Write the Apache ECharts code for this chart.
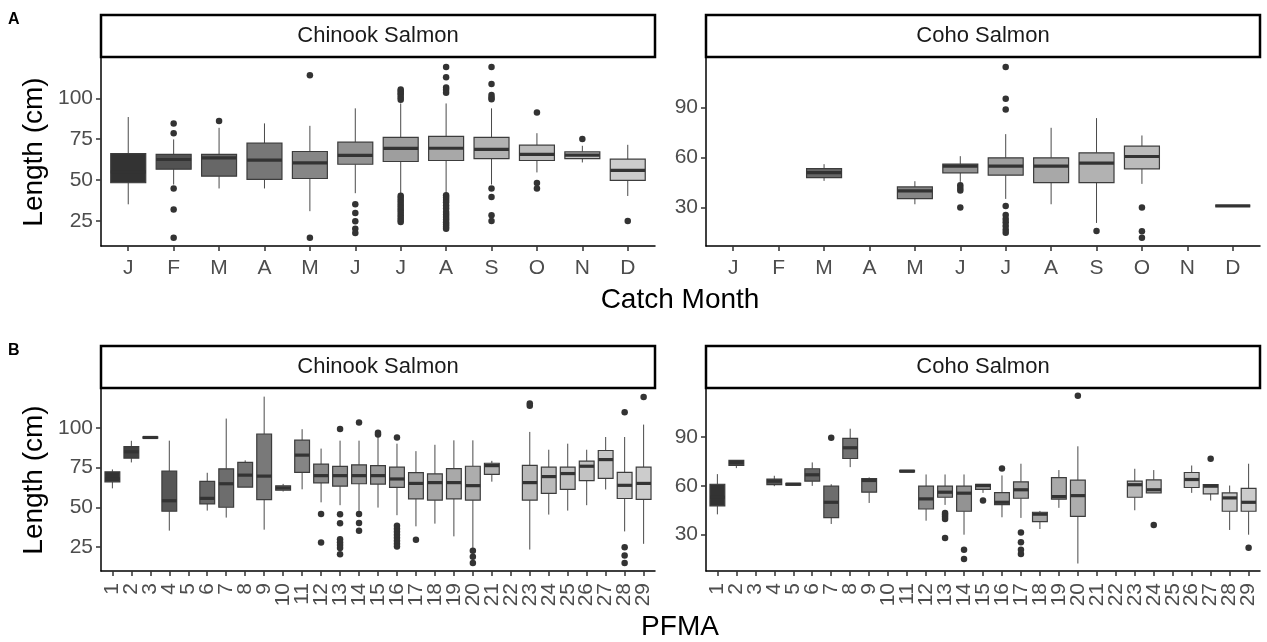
<!DOCTYPE html>
<html>
<head>
<meta charset="utf-8">
<title>Salmon length by catch month and PFMA</title>
<script src="https://cdn.jsdelivr.net/npm/echarts@6/dist/echarts.min.js"></script>
<style>
  html, body { margin: 0; padding: 0; background: #fff; }
  #chart { width: 1267px; height: 642px; }
</style>
</head>
<body>
<div id="chart"></div>
<script>
// category labels
const monthLabels = ['J', 'F', 'M', 'A', 'M', 'J', 'J', 'A', 'S', 'O', 'N', 'D'];
const pfmaLabels = ['1', '2', '3', '4', '5', '6', '7', '8', '9', '10', '11', '12', '13', '14', '15',
  '16', '17', '18', '19', '20', '21', '22', '23', '24', '25', '26', '27', '28', '29'];

// y tick labels
const chinookTicks = [25, 50, 75, 100];
const cohoTicks = [30, 60, 90];

// box stats: [lower whisker, Q1, median, Q3, upper whisker], null = no fish
const chinookMonth = [
  [35.2, 48.4, 55.0, 66.2, 88.6],
  [47.3, 56.7, 62.6, 65.8, 74.9],
  [44.9, 52.4, 63.6, 65.8, 82.0],
  [44.9, 50.4, 62.2, 72.6, 84.7],
  [31.0, 51.0, 60.5, 67.5, 83.2],
  [42.0, 59.7, 65.1, 73.2, 93.9],
  [41.2, 61.4, 69.4, 76.1, 96.9],
  [41.2, 62.0, 69.5, 76.7, 96.9],
  [47.3, 63.2, 68.8, 76.1, 93.9],
  [54.7, 62.0, 65.7, 71.4, 78.7],
  [60.8, 63.2, 65.3, 67.3, 71.0],
  [40.3, 49.8, 55.9, 62.8, 71.6]
];
// outliers: [category index, length]
const chinookMonthOut = [
  [1, 84.7], [1, 78.7], [1, 44.9], [1, 32.0], [1, 14.8],
  [2, 86.1],
  [4, 114.1], [4, 14.8],
  [5, 35.2], [5, 29.9], [5, 24.8], [5, 20.3], [5, 17.6],
  [6, 105.5], [6, 104.4], [6, 103.2], [6, 102.0], [6, 100.6], [6, 99.2],
  [6, 40.5], [6, 39.0], [6, 37.5], [6, 36.0], [6, 34.5], [6, 33.0], [6, 31.5], [6, 30.0],
  [6, 28.5], [6, 27.0], [6, 25.6], [6, 24.4],
  [7, 119.2], [7, 112.9], [7, 106.7], [7, 105.3], [7, 103.4],
  [7, 40.7], [7, 39.3], [7, 37.8], [7, 36.4], [7, 34.5], [7, 32.6], [7, 30.5], [7, 29.0],
  [7, 27.5], [7, 25.9], [7, 24.3], [7, 22.9], [7, 21.4], [7, 20.3],
  [8, 119.2], [8, 108.8], [8, 102.0], [8, 100.6], [8, 99.4], [8, 44.9], [8, 39.7], [8, 28.5], [8, 25.0],
  [9, 91.4], [9, 48.3], [9, 44.9],
  [10, 75.1],
  [11, 25.0]
];

const cohoMonth = [
  null,
  null,
  [46.0, 48.0, 51.0, 53.4, 56.0],
  null,
  [32.0, 35.4, 40.0, 42.4, 45.8],
  [45.4, 50.8, 54.8, 56.0, 60.8],
  [35.2, 49.4, 54.8, 59.8, 74.0],
  [32.0, 45.0, 54.8, 59.8, 77.8],
  [20.8, 45.0, 56.6, 62.8, 83.6],
  [44.2, 53.2, 60.6, 66.8, 73.2],
  null,
  [31.0, 31.0, 31.0, 31.0, 31.0]
];
const cohoMonthOut = [
  [5, 43.4], [5, 41.8], [5, 40.2], [5, 30.0],
  [6, 114.2], [6, 95.2], [6, 88.8], [6, 31.0], [6, 25.6], [6, 23.2], [6, 21.2], [6, 19.0], [6, 16.8], [6, 15.0],
  [8, 16.0],
  [9, 30.0], [9, 15.8], [9, 12.0]
];

const chinookPfma = [
  [62.0, 66.1, 68.0, 72.4, 73.9],
  [78.3, 81.0, 85.0, 88.3, 91.9],
  [93.6, 93.6, 94.0, 94.4, 94.4],
  [35.4, 47.6, 54.2, 72.9, 92.0],
  null,
  [48.0, 52.2, 55.7, 66.4, 71.8],
  [43.6, 50.1, 64.9, 74.3, 105.9],
  [62.8, 62.8, 70.3, 78.3, 79.6],
  [36.0, 54.9, 69.7, 96.2, 119.7],
  [60.0, 60.8, 62.2, 63.6, 64.8],
  [61.4, 72.0, 82.9, 92.3, 99.2],
  [53.2, 65.5, 70.0, 77.2, 87.0],
  [51.4, 63.4, 70.0, 75.8, 92.0],
  [47.8, 64.9, 70.0, 76.8, 92.0],
  [49.9, 64.7, 70.0, 76.3, 96.4],
  [45.1, 62.6, 67.9, 75.3, 90.1],
  [38.1, 55.4, 65.1, 71.9, 85.4],
  [39.8, 54.6, 65.6, 71.1, 89.4],
  [31.8, 55.4, 65.6, 74.4, 92.2],
  [24.5, 54.6, 63.7, 75.9, 92.2],
  [66.2, 70.8, 76.3, 77.8, 79.3],
  null,
  [23.5, 54.6, 65.6, 76.5, 97.5],
  [45.5, 58.8, 69.4, 75.3, 86.3],
  [48.0, 61.3, 71.3, 75.3, 90.1],
  [51.4, 66.8, 75.9, 79.1, 86.3],
  [61.3, 68.3, 80.1, 85.8, 94.3],
  [34.9, 55.6, 63.9, 72.1, 94.3],
  [27.1, 55.0, 65.1, 75.3, 102.1]
];
const chinookPfmaOut = [
  [11, 45.9], [11, 27.9],
  [12, 99.4], [12, 45.7], [12, 40.1], [12, 30.0], [12, 28.1], [12, 26.3], [12, 24.4], [12, 20.6],
  [13, 103.4], [13, 45.8], [13, 40.2], [13, 35.4],
  [14, 97.0], [14, 95.8],
  [15, 94.0], [15, 38.5], [15, 36.6], [15, 34.7], [15, 32.8], [15, 30.9], [15, 29.0], [15, 27.2], [15, 25.4],
  [16, 29.6],
  [19, 22.8], [19, 19.0], [19, 15.0],
  [22, 115.4], [22, 114.0],
  [27, 109.9], [27, 25.0], [27, 19.7], [27, 15.0],
  [28, 119.5]
];

const cohoPfma = [
  [42.5, 47.7, 53.0, 61.0, 67.2],
  [70.9, 72.5, 74.4, 75.6, 75.6],
  null,
  [59.8, 60.8, 62.9, 64.1, 66.2],
  [60.5, 60.5, 61.0, 61.5, 61.5],
  [60.0, 62.9, 66.8, 70.5, 74.4],
  [36.6, 40.5, 49.9, 59.8, 61.0],
  [71.5, 76.8, 83.4, 89.2, 95.1],
  [49.5, 56.1, 63.3, 64.4, 65.2],
  null,
  [68.5, 68.5, 69.0, 69.5, 69.5],
  [38.6, 45.8, 52.0, 59.8, 67.0],
  [48.3, 53.0, 56.1, 59.8, 67.0],
  [30.0, 44.4, 55.5, 59.8, 67.0],
  [55.7, 57.8, 60.2, 61.0, 61.0],
  [40.7, 48.5, 49.9, 55.9, 66.4],
  [40.3, 52.4, 57.6, 62.5, 73.6],
  [33.5, 38.0, 42.6, 43.8, 44.6],
  [46.5, 51.8, 53.4, 65.0, 69.7],
  [12.3, 41.3, 54.0, 63.5, 84.3],
  null,
  null,
  [45.0, 53.0, 60.7, 62.9, 70.5],
  [55.7, 55.7, 57.6, 63.7, 69.7],
  null,
  [55.7, 59.0, 63.9, 68.2, 72.5],
  [51.0, 55.1, 59.8, 60.7, 60.7],
  [32.9, 44.4, 52.6, 55.7, 60.2],
  [30.0, 44.4, 49.9, 58.4, 73.6]
];
const cohoPfmaOut = [
  [6, 89.6],
  [12, 43.4], [12, 42.2], [12, 41.0], [12, 39.7], [12, 28.0],
  [13, 20.8], [13, 15.0],
  [14, 51.0],
  [15, 70.7],
  [16, 31.4], [16, 25.3], [16, 20.8], [16, 18.1],
  [19, 115.3],
  [23, 36.0],
  [26, 76.7],
  [28, 22.0]
];

const FONT = '"Liberation Sans", Arial, sans-serif';

// ggplot-style grey palette (gamma spaced from grey20 to grey80)
function greyPal(n) {
  const a = Math.pow(0.2, 2.2), b = Math.pow(0.8, 2.2);
  const out = [];
  for (let i = 0; i < n; i++) {
    const g = Math.round(255 * Math.pow(a + (b - a) * i / (n - 1), 1 / 2.2));
    out.push('rgb(' + g + ',' + g + ',' + g + ')');
  }
  return out;
}

function boxRenderer(fills, frac) {
  return function (params, api) {
    const k = api.value(0);
    const lo = api.coord([k, api.value(1)]);
    const q1 = api.coord([k, api.value(2)]);
    const md = api.coord([k, api.value(3)]);
    const q3 = api.coord([k, api.value(4)]);
    const hi = api.coord([k, api.value(5)]);
    const half = api.size([1, 0])[0] * frac / 2;
    const x = lo[0];
    const whisker = (y1, y2) => ({
      type: 'line', shape: { x1: x, y1: y1, x2: x, y2: y2 },
      style: { stroke: '#4a4a4a', lineWidth: 1 }
    });
    return {
      type: 'group',
      children: [
        whisker(hi[1], q3[1]),
        whisker(q1[1], lo[1]),
        { type: 'rect', shape: { x: x - half, y: q3[1], width: 2 * half, height: q1[1] - q3[1] },
          style: { fill: fills[k], stroke: '#3c3c3c', lineWidth: 1.2 } },
        { type: 'line', shape: { x1: x - half, y1: md[1], x2: x + half, y2: md[1] },
          style: { stroke: '#333', lineWidth: 3.2 } }
      ]
    };
  };
}

// rotated tick labels (reading upward, end of text next to the tick)
function labelRenderer(labels, yMin, gap) {
  return function (params, api) {
    const k = api.value(0);
    const pt = api.coord([k, yMin]);
    return {
      type: 'text', x: pt[0], y: pt[1] + gap, rotation: Math.PI / 2,
      style: { text: labels[k], fontSize: 21, fontFamily: FONT, fill: '#4d4d4d',
        textAlign: 'right', textVerticalAlign: 'middle' }
    };
  };
}

const PW = 554;
const panels = [
  { left: 101, top: 58, height: 188, labels: monthLabels, box: chinookMonth, out: chinookMonthOut,
    ticks: chinookTicks, yMin: 9.7, yMax: 124.7, rotated: false, frac: 0.77 },
  { left: 706, top: 58, height: 188, labels: monthLabels, box: cohoMonth, out: cohoMonthOut,
    ticks: cohoTicks, yMin: 7.0, yMax: 119.6, rotated: false, frac: 0.77 },
  { left: 101, top: 389, height: 182, labels: pfmaLabels, box: chinookPfma, out: chinookPfmaOut,
    ticks: chinookTicks, yMin: 10.0, yMax: 124.5, rotated: true, frac: 0.78 },
  { left: 706, top: 389, height: 182, labels: pfmaLabels, box: cohoPfma, out: cohoPfmaOut,
    ticks: cohoTicks, yMin: 7.7, yMax: 119.5, rotated: true, frac: 0.78 }
];

const grid = [], xAxis = [], yAxis = [], series = [], graphic = [];
panels.forEach((p, i) => {
  const n = p.labels.length;
  const idx = p.labels.map((c, k) => k);
  const fills = greyPal(n);
  grid.push({ left: p.left, top: p.top, width: PW, height: p.height });
  xAxis.push({
    type: 'value', gridIndex: i, min: -0.6, max: n - 0.4,
    axisLine: { show: true, onZero: false, lineStyle: { color: '#000', width: 1.5 } },
    axisTick: { show: true, customValues: idx, length: 5, lineStyle: { color: '#333', width: 1.5 } },
    axisLabel: { show: !p.rotated, customValues: idx, formatter: v => p.labels[v], margin: 12,
      showMinLabel: true, showMaxLabel: true,
      fontSize: 21, fontFamily: FONT, color: '#4d4d4d' },
    splitLine: { show: false }
  });
  yAxis.push({
    type: 'value', gridIndex: i, min: p.yMin, max: p.yMax,
    axisLine: { show: true, onZero: false, lineStyle: { color: '#000', width: 1.5 } },
    axisTick: { show: true, customValues: p.ticks, length: 5, lineStyle: { color: '#333', width: 1.5 } },
    axisLabel: { customValues: p.ticks, margin: 8, fontSize: 21, fontFamily: FONT, color: '#4d4d4d',
      showMinLabel: true, showMaxLabel: true },
    splitLine: { show: false }
  });
  series.push({
    type: 'custom', xAxisIndex: i, yAxisIndex: i, silent: true,
    renderItem: boxRenderer(fills, p.frac),
    encode: { x: 0, y: [1, 2, 3, 4, 5] },
    data: p.box.map((b, k) => b ? [k].concat(b) : null).filter(Boolean)
  });
  series.push({
    type: 'scatter', xAxisIndex: i, yAxisIndex: i, silent: true,
    data: p.out, symbolSize: 6.5, itemStyle: { color: '#333', opacity: 1 }
  });
  if (p.rotated) {
    series.push({
      type: 'custom', xAxisIndex: i, yAxisIndex: i, silent: true, clip: false,
      renderItem: labelRenderer(p.labels, p.yMin, 12),
      encode: { x: 0 },
      data: idx.map(k => [k])
    });
  }
  // facet strip
  const stripTop = p.top - 43;
  graphic.push({ type: 'rect', shape: { x: p.left, y: stripTop, width: PW, height: 42 },
    style: { fill: '#fff', stroke: '#000', lineWidth: 2.5 } });
  graphic.push({ type: 'text', x: p.left + PW / 2, y: stripTop + 21,
    style: { text: i % 2 === 0 ? 'Chinook Salmon' : 'Coho Salmon', fontSize: 22, fontFamily: FONT,
      fill: '#1a1a1a', textAlign: 'center', textVerticalAlign: 'middle' } });
});

const titleStyle = { fontSize: 28, fontFamily: FONT, fill: '#000', textAlign: 'center', textVerticalAlign: 'middle' };
graphic.push({ type: 'text', x: 34, y: 152, rotation: Math.PI / 2, style: Object.assign({ text: 'Length (cm)' }, titleStyle) });
graphic.push({ type: 'text', x: 34, y: 480, rotation: Math.PI / 2, style: Object.assign({ text: 'Length (cm)' }, titleStyle) });
graphic.push({ type: 'text', x: 680, y: 300, style: Object.assign({ text: 'Catch Month' }, titleStyle) });
graphic.push({ type: 'text', x: 680, y: 627, style: Object.assign({ text: 'PFMA' }, titleStyle) });
graphic.push({ type: 'text', x: 8, y: 12, style: { text: 'A', fontSize: 16, fontWeight: 'bold', fontFamily: FONT, fill: '#000' } });
graphic.push({ type: 'text', x: 8, y: 343, style: { text: 'B', fontSize: 16, fontWeight: 'bold', fontFamily: FONT, fill: '#000' } });

const myChart = echarts.init(document.getElementById('chart'));
myChart.setOption({
  backgroundColor: '#fff',
  animation: false,
  grid: grid,
  xAxis: xAxis,
  yAxis: yAxis,
  series: series,
  graphic: graphic
});
</script>
</body>
</html>
